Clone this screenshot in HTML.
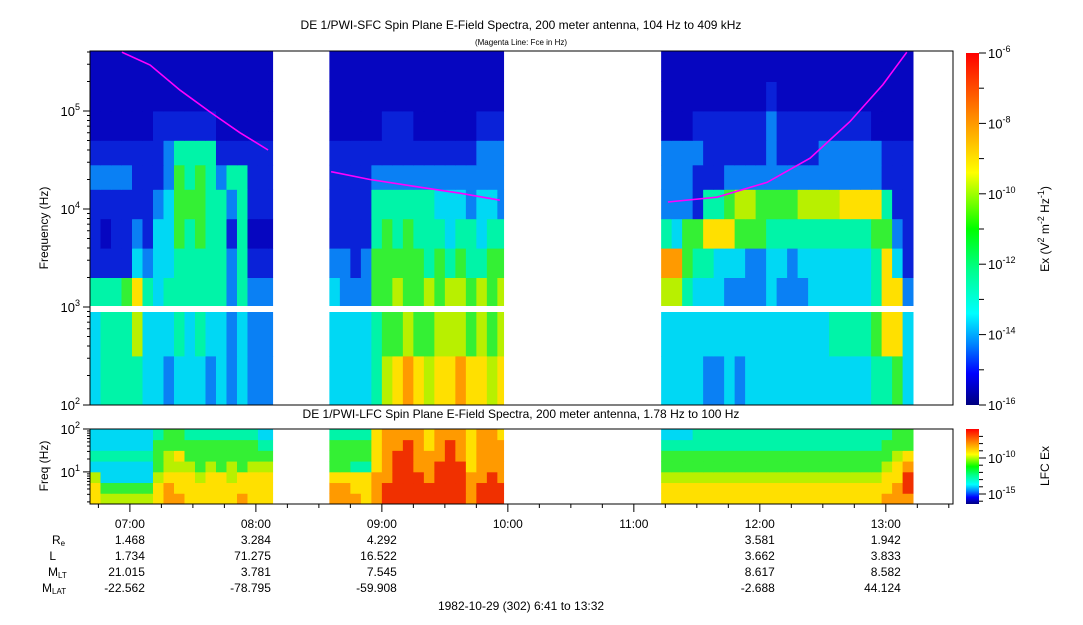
<!DOCTYPE html>
<html><head><meta charset="utf-8"><style>
body{margin:0;background:#fff;}
svg text{font-family:"Liberation Sans",sans-serif;fill:#000;}
</style></head><body>
<svg id="chart" width="1083" height="620" viewBox="0 0 1083 620" xmlns="http://www.w3.org/2000/svg">
<defs>
<linearGradient id="jet" x1="0" y1="0" x2="0" y2="1">
<stop offset="0" stop-color="#ff0000"/><stop offset="0.2" stop-color="#ff9900"/><stop offset="0.34" stop-color="#ffff00"/>
<stop offset="0.5" stop-color="#00ff00"/><stop offset="0.62" stop-color="#00ff90"/><stop offset="0.74" stop-color="#00ffff"/>
<stop offset="0.83" stop-color="#0080ff"/><stop offset="0.91" stop-color="#0000ff"/><stop offset="1" stop-color="#00007f"/>
</linearGradient>
</defs>
<g id="sfc"></g>
<g id="lfc"></g>
<g id="axes"></g>
<text x="521" y="29" font-size="12" text-anchor="middle">DE 1/PWI-SFC  Spin Plane E-Field Spectra, 200 meter antenna, 104 Hz to 409 kHz</text>
<text x="521" y="45" font-size="8" text-anchor="middle">(Magenta Line: Fce in Hz)</text>
<text x="521" y="418" font-size="12" text-anchor="middle">DE 1/PWI-LFC  Spin Plane E-Field Spectra, 200 meter antenna, 1.78 Hz to 100 Hz</text>
<text transform="translate(48,228) rotate(-90)" font-size="12" text-anchor="middle">Frequency (Hz)</text>
<text transform="translate(48,466) rotate(-90)" font-size="12" text-anchor="middle">Freq (Hz)</text>
<text transform="translate(1049,229) rotate(-90)" font-size="12" text-anchor="middle">Ex (V<tspan dy="-5" font-size="9">2</tspan><tspan dy="5"> m</tspan><tspan dy="-5" font-size="9">-2</tspan><tspan dy="5"> Hz</tspan><tspan dy="-5" font-size="9">-1</tspan><tspan dy="5">)</tspan></text>
<text transform="translate(1049,466) rotate(-90)" font-size="12" text-anchor="middle">LFC Ex</text>
<rect x="966" y="53" width="13" height="352" fill="url(#jet)"/>
<rect x="966" y="429" width="13" height="75" fill="url(#jet)"/>
<text x="521" y="610" font-size="12" text-anchor="middle">1982-10-29 (302) 6:41 to 13:32</text>
</svg>
<script>
const segments=[[0,87],[114,197],[272,392]];
const colStep=5;
const sfcBands=[2,2.5,3,3.3,3.6,3.9,4.2,4.45,4.7,5,5.3,5.612];
const lfcBands=[0.25,0.5,0.75,1.0,1.25,1.5,1.75,2.0];
const levelColors=["#00007f","#0606c0","#0a22d8","#0a80f4","#00d8f4","#00f4a8","#34f034","#b8f000","#ffe000","#ff9a00","#f03000"];
const sfcSeg1=[
[4,5,5,5,5,4,4,3,4,4,4,3,4,3,4,3,3,3],
[4,5,5,5,7,4,4,4,5,4,5,4,4,3,4,3,3,3],
[5,5,5,6,8,5,4,5,5,5,5,5,5,3,5,3,3,3],
[2,2,2,2,4,3,4,4,5,5,5,5,5,3,5,2,2,2],
[2,1,2,2,3,2,4,4,6,5,6,5,5,2,5,1,1,1],
[2,2,2,2,2,2,3,4,6,6,6,5,5,3,5,2,2,2],
[3,3,3,3,2,2,2,3,6,5,6,5,3,5,5,2,2,2],
[2,2,2,2,2,2,2,3,5,5,5,5,2,2,2,2,2,2],
[1,1,1,1,1,1,2,2,2,2,2,2,1,1,1,1,1,1],
[1,1,1,1,1,1,1,1,1,1,1,1,1,1,1,1,1,1],
[1,1,1,1,1,1,1,1,1,1,1,1,1,1,1,1,1,1]];
const sfcSeg2=[
[4,4,4,4,5,7,8,9,8,7,8,8,9,8,8,7,8],
[4,4,4,4,5,6,6,7,6,6,7,7,7,6,7,6,7],
[4,3,3,3,6,6,7,6,6,7,6,7,7,6,7,6,7],
[3,3,2,3,6,6,6,6,6,5,6,5,6,5,5,6,6],
[2,2,2,2,5,6,5,6,5,5,5,4,5,5,4,5,5],
[2,2,2,2,5,5,5,5,5,5,4,4,4,3,4,4,3],
[2,2,2,2,3,3,3,3,3,3,3,3,3,3,3,3,3],
[2,2,2,2,2,2,2,2,2,2,2,2,2,2,3,3,3],
[1,1,1,1,1,2,2,2,1,1,1,1,1,1,2,2,2],
[1,1,1,1,1,1,1,1,1,1,1,1,1,1,1,1,1],
[1,1,1,1,1,1,1,1,1,1,1,1,1,1,1,1,1]];
const sfcSeg3=[
[4,4,4,4,3,3,4,3,4,4,4,4,4,4,4,4,4,4,4,4,5,5,6,4],
[4,4,4,4,4,4,4,4,4,4,4,4,4,4,4,4,5,5,5,5,6,8,8,4],
[7,7,5,4,4,4,3,3,3,3,4,3,3,3,4,4,4,4,4,4,5,8,8,3],
[9,9,6,5,5,4,4,4,3,3,4,4,3,4,4,4,4,4,4,4,5,8,4,2],
[5,4,6,6,8,8,8,6,6,6,5,5,5,5,5,5,5,5,5,5,6,6,3,2],
[3,3,3,2,5,5,6,7,7,6,6,6,6,7,7,7,7,8,8,8,8,5,2,2],
[3,3,3,2,2,2,3,3,3,3,3,3,3,3,3,3,3,3,3,3,3,2,2,2],
[3,3,3,3,2,2,2,2,2,2,3,2,2,2,2,3,3,3,3,3,3,2,2,2],
[1,1,1,2,2,2,2,2,2,2,3,2,2,2,2,2,2,2,2,2,1,1,1,1],
[1,1,1,1,1,1,1,1,1,1,2,1,1,1,1,1,1,1,1,1,1,1,1,1],
[1,1,1,1,1,1,1,1,1,1,1,1,1,1,1,1,1,1,1,1,1,1,1,1]];
const lfcSeg1=[
[8,7,7,7,7,7,8,9,9,8,8,8,8,8,9,8,8,8],
[8,6,6,6,6,6,8,9,8,8,8,8,8,8,8,8,8,8],
[7,4,4,4,4,4,7,8,8,8,7,8,8,7,8,8,8,8],
[4,4,4,4,4,4,6,7,7,7,6,7,6,7,6,7,7,7],
[5,5,5,5,5,5,6,7,8,6,6,6,6,6,6,6,6,6],
[4,4,4,4,4,4,6,6,6,6,6,6,6,6,6,6,5,5],
[4,4,4,4,4,4,5,6,6,5,5,5,5,5,5,5,4,4]];
const lfcSeg2=[
[9,9,9,8,9,10,10,10,10,10,10,10,10,9,10,10,10],
[9,9,8,8,9,10,10,10,10,10,10,10,10,9,10,10,10],
[8,8,8,8,9,9,10,10,10,9,10,10,10,9,9,10,9],
[6,6,5,5,8,9,10,10,9,9,10,10,10,8,9,9,9],
[6,6,6,6,8,9,10,10,9,9,9,10,9,8,9,9,9],
[6,6,6,6,8,9,9,10,9,8,9,10,9,8,9,9,9],
[5,5,5,5,8,9,9,9,9,8,9,9,9,8,9,9,8]];
const lfcSeg3=[
[8,8,8,8,8,8,8,8,8,8,8,8,8,8,8,8,8,8,8,8,8,9,9,9],
[8,8,8,8,8,8,8,8,8,8,8,8,8,8,8,8,8,8,8,8,8,8,9,10],
[7,7,7,7,7,7,7,7,7,7,7,7,7,7,7,7,7,7,7,7,7,8,8,10],
[6,6,6,6,6,6,6,6,6,6,6,6,6,6,6,6,6,6,6,6,6,7,8,9],
[6,6,6,6,6,6,6,6,6,6,6,6,6,6,6,6,6,6,6,6,6,6,7,8],
[5,5,5,5,5,5,5,5,5,5,5,5,5,5,5,5,5,5,5,5,5,6,6,6],
[4,4,4,5,5,5,5,5,5,5,5,5,5,5,5,5,5,5,5,5,5,5,6,6]];
const fceSeg1T=[15.2,28.6,42.9,57.1,71.4,84.8];
const fceSeg1K=[398,295,163,98,60,40];
const fceSeg2T=[114.8,133.3,157.1,176.2,195.2];
const fceSeg2K=[24,20,16.7,14.5,12.3];
const fceSeg3T=[275.2,298.6,322.4,342.9,361.9,377.6,389];
const fceSeg3K=[11.8,13.2,18.7,33,78,186,398];
const hourLabels=["07:00","08:00","09:00","10:00","11:00","12:00","13:00"];
const hourMinutes=[19,79,139,199,259,319,379];
const ephemMinutes=[19,79,139,319,379];
const ephemRe=["1.468","3.284","4.292","3.581","1.942"];
const ephemL=["1.734","71.275","16.522","3.662","3.833"];
const ephemMLT=["21.015","3.781","7.545","8.617","8.582"];
const ephemMLAT=["-22.562","-78.795","-59.908","-2.688","44.124"];
const sfcTicks=[2,3,4,5];
const cbMainTicks=[-6,-8,-10,-12,-14,-16];
const cbLfcTicks=[-10,-15];

const NS="http://www.w3.org/2000/svg";
const X0=90,X1=953,TMAX=411;
const xT=t=>X0+(X1-X0)*t/TMAX;
const yS=lf=>405-98*(lf-2);
const yL=lf=>429+(2-lf)*42.9;
function mk(tag,attrs,parent){const e=document.createElementNS(NS,tag);for(const k in attrs)e.setAttribute(k,attrs[k]);parent.appendChild(e);return e;}
const gS=document.getElementById('sfc'),gL=document.getElementById('lfc'),gA=document.getElementById('axes');
function drawGrid(seg,grid,bands,yf,g,nm){
  grid.forEach((row,r)=>{row.forEach((v,c)=>{
    const t0=seg[0]+c*colStep,t1=Math.min(t0+colStep,seg[1]);
    const x=xT(t0),w=xT(t1)-x+0.4,ya=yf(bands[r+1]),yb=yf(bands[r]);
    const e=mk('rect',{x:x,y:ya,width:w,height:yb-ya+0.4,fill:levelColors[v]},g);
    
    
  });});
}
drawGrid(segments[0],sfcSeg1,sfcBands,yS,gS,'sfc');
drawGrid(segments[1],sfcSeg2,sfcBands,yS,gS,'sfc');
drawGrid(segments[2],sfcSeg3,sfcBands,yS,gS,'sfc');
drawGrid(segments[0],lfcSeg1,lfcBands,yL,gL,'lfc');
drawGrid(segments[1],lfcSeg2,lfcBands,yL,gL,'lfc');
drawGrid(segments[2],lfcSeg3,lfcBands,yL,gL,'lfc');
const gapBand=mk('rect',{x:X0,y:306,width:X1-X0,height:6,fill:'#fff'},gS);


[[fceSeg1T,fceSeg1K],[fceSeg2T,fceSeg2K],[fceSeg3T,fceSeg3K]].forEach(([T,K])=>{
  const pts=T.map((t,i)=>xT(t).toFixed(1)+','+yS(Math.log10(K[i]*1000)).toFixed(1)).join(' ');
  const p=mk('polyline',{points:pts,fill:'none',stroke:'#ff00ff','stroke-width':1.6},gS);
  
  
});
const f1=mk('rect',{x:X0,y:51,width:X1-X0,height:354,fill:'none',stroke:'#000','stroke-width':1},gA);


const f2=mk('rect',{x:X0,y:429,width:X1-X0,height:75,fill:'none',stroke:'#000','stroke-width':1},gA);


for(let d=2;d<=5;d++){for(let m=1;m<10;m++){const lf=d+Math.log10(m);if(lf>5.612)break;
  mk('line',{x1:X0-(m==1?7:3),x2:X0,y1:yS(lf),y2:yS(lf),stroke:'#000'},gA);}}
sfcTicks.forEach(d=>{const t=mk('text',{x:X0-10,y:yS(d)+5,'font-size':13,'text-anchor':'end'},gA);
  
  
  t.innerHTML='10<tspan dy="-6" font-size="9">'+d+'</tspan>';});
for(let d=0;d<=2;d++){for(let m=1;m<10;m++){const lf=d+Math.log10(m);if(lf<0.25||lf>2)continue;
  mk('line',{x1:X0-(m==1?7:3),x2:X0,y1:yL(lf),y2:yL(lf),stroke:'#000'},gA);}}
[1,2].forEach(d=>{const t=mk('text',{x:X0-10,y:yL(d)+5,'font-size':13,'text-anchor':'end'},gA);
  
  
  t.innerHTML='10<tspan dy="-6" font-size="9">'+d+'</tspan>';});
for(let t=4;t<=TMAX;t+=15){const maj=((t-19)%60===0);
  mk('line',{x1:xT(t),x2:xT(t),y1:504,y2:504+(maj?8:4),stroke:'#000'},gA);}
hourLabels.forEach((s,i)=>{const e=mk('text',{x:xT(hourMinutes[i]),y:528,'font-size':12,'text-anchor':'middle'},gA);
  
  
  e.textContent=s;});
const rowNames=['R<tspan font-size="8" dy="2">e</tspan>','L','M<tspan font-size="8" dy="2">LT</tspan>','M<tspan font-size="8" dy="2">LAT</tspan>'];
const rowY=[544,560,576,592];
[ephemRe,ephemL,ephemMLT,ephemMLAT].forEach((arr,r)=>{
  const lab=mk('text',{x:r==1?56:(r==0?52:(r==2?48:42)),y:rowY[r],'font-size':12,'text-anchor':r==1?'end':'start'},gA);
  
  
  lab.innerHTML=rowNames[r];
  arr.forEach((v,i)=>{const e=mk('text',{x:xT(ephemMinutes[i])+15,y:rowY[r],'font-size':12,'text-anchor':'end'},gA);
    
    
    e.textContent=v;});
});
const cbY=e=>53+(-6-e)*35.2;
for(let e=-6;e>=-16;e--){mk('line',{x1:979,x2:(e%2==0?986:984),y1:cbY(e),y2:cbY(e),stroke:'#000'},gA);}
cbMainTicks.forEach(e=>{const t=mk('text',{x:988,y:cbY(e)+5,'font-size':13},gA);
  
  
  t.innerHTML='10<tspan dy="-6" font-size="9">'+e+'</tspan>';});
const cbL=e=>458+(-10-e)*7.2;
for(let e=-7;e>=-16;e--){const y=cbL(e);if(y<429||y>504)continue;mk('line',{x1:979,x2:(e%5==0?986:983),y1:y,y2:y,stroke:'#000'},gA);}
cbLfcTicks.forEach(e=>{const t=mk('text',{x:988,y:cbL(e)+5,'font-size':13},gA);
  
  
  t.innerHTML='10<tspan dy="-6" font-size="9">'+e+'</tspan>';});
</script>
</body></html>
